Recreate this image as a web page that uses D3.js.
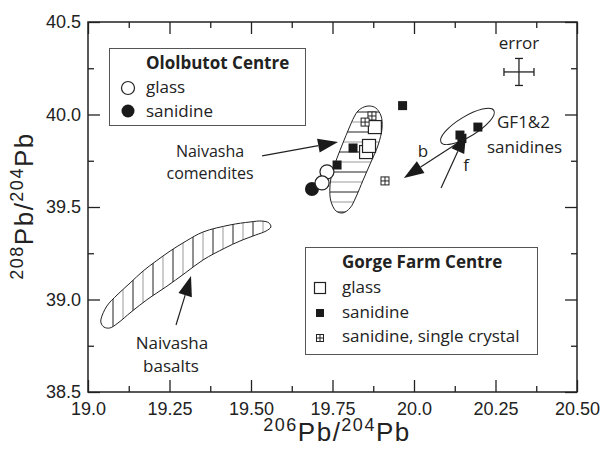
<!DOCTYPE html>
<html><head><meta charset="utf-8">
<script src="https://cdn.jsdelivr.net/npm/d3@7"></script>
<style>
body{margin:0;background:#fff;}
svg{display:block;}
.tick text{font-family:"Liberation Sans",Arial,sans-serif;font-size:18px;fill:#222;}
.lbl{font-family:"Open Sans",Lato,sans-serif;font-size:17px;fill:#222;}
</style></head>
<body>
<svg id="c" width="605" height="450"></svg>
<script>
// ---- data ----
const xTicks = [19.0, 19.25, 19.5, 19.75, 20.0, 20.25, 20.5];
const xTickLabels = ["19.0","19.25","19.50","19.75","20.0","20.25","20.50"];
const yTicks = [38.5, 39.0, 39.5, 40.0, 40.5];
const yTickLabels = ["38.5","39.0","39.5","40.0","40.5"];

// Ololbutot Centre
const ololGlass = [[19.733,39.690],[19.718,39.630]];
const ololSanidine = [[19.687,39.597]];
// Gorge Farm Centre
const gfGlass = [[19.853,39.797],[19.862,39.830],[19.880,39.932]];
const gfSanidine = [[19.965,40.048],[19.813,39.819],[19.764,39.727],[20.196,39.932],[20.141,39.889],[20.147,39.870]];
const gfSingle = [[19.871,39.992],[19.850,39.959],[19.911,39.641]];

// error bar
const errorCenter = [20.322, 40.230];
const errorHalf = [0.046, 0.073];

// Naivasha comendites field outline
const comenditeX = [19.828,19.847,19.865,19.883,19.899,19.902,19.890,19.868,19.844,19.822,19.804,19.782,19.761,19.745,19.742,19.748,19.764,19.782,19.801,19.816];
const comenditeY = [40.019,40.041,40.046,40.035,39.992,39.927,39.835,39.743,39.646,39.554,39.495,39.468,39.478,39.532,39.603,39.678,39.765,39.846,39.927,39.986];
// Naivasha basalts field outline
const basaltX = [19.040,19.058,19.089,19.129,19.169,19.209,19.252,19.301,19.353,19.436,19.497,19.534,19.555,19.561,19.546,19.515,19.466,19.420,19.353,19.298,19.239,19.184,19.132,19.092,19.067,19.049,19.040];
const basaltY = [38.895,38.965,39.024,39.089,39.154,39.208,39.262,39.316,39.365,39.403,39.419,39.424,39.414,39.392,39.370,39.349,39.316,39.278,39.214,39.143,39.068,39.003,38.932,38.873,38.846,38.851,38.873];

// GF1&2 ellipse major axis endpoints
const gfEllipse = [[20.083,39.849],[20.245,40.022]];

// arrows [from, to]
const arrows = [
  [[19.534,39.776],[19.767,39.851]],  // comendites
  [[19.270,38.862],[19.316,39.127]],  // basalts
  [[20.153,39.868],[19.969,39.657]],  // b
  [[20.083,39.603],[20.160,39.900]]   // f
];

// ---- chart ----
const svg = d3.select("#c");
const L=88,R=577,T=22,B=392;
const x = d3.scaleLinear().domain([19,20.5]).range([L,R]);
const y = d3.scaleLinear().domain([38.5,40.5]).range([B,T]);

const xMinor = d3.range(0,6).map(i=>19.125+i*0.25);
const yMinor = d3.range(0,4).map(i=>38.75+i*0.5);

function styleAxis(g){ g.select(".domain").remove(); g.selectAll("line").attr("stroke","#222").attr("stroke-width",1.3); }

// bottom
svg.append("g").attr("transform",`translate(0,${B})`)
  .call(d3.axisBottom(x).tickValues(xTicks).tickSize(-12).tickPadding(10)
    .tickFormat((d,i)=>xTickLabels[i])).call(styleAxis);
svg.append("g").attr("transform",`translate(0,${B})`)
  .call(d3.axisBottom(x).tickValues(xMinor).tickSize(-6).tickFormat("")).call(styleAxis);
// top
svg.append("g").attr("transform",`translate(0,${T})`)
  .call(d3.axisTop(x).tickValues(xTicks).tickSize(-12).tickFormat("")).call(styleAxis);
svg.append("g").attr("transform",`translate(0,${T})`)
  .call(d3.axisTop(x).tickValues(xMinor).tickSize(-6).tickFormat("")).call(styleAxis);
// left
svg.append("g").attr("transform",`translate(${L},0)`)
  .call(d3.axisLeft(y).tickValues(yTicks).tickSize(-12).tickPadding(7)
    .tickFormat((d,i)=>yTickLabels[i])).call(styleAxis);
svg.append("g").attr("transform",`translate(${L},0)`)
  .call(d3.axisLeft(y).tickValues(yMinor).tickSize(-6).tickFormat("")).call(styleAxis);
// right
svg.append("g").attr("transform",`translate(${R},0)`)
  .call(d3.axisRight(y).tickValues(yTicks).tickSize(-12).tickFormat("")).call(styleAxis);
svg.append("g").attr("transform",`translate(${R},0)`)
  .call(d3.axisRight(y).tickValues(yMinor).tickSize(-6).tickFormat("")).call(styleAxis);

svg.append("rect").attr("x",L).attr("y",T).attr("width",R-L).attr("height",B-T)
  .attr("fill","none").attr("stroke","#222").attr("stroke-width",1.5);

// axis titles
const tf = '"Liberation Sans",Arial,sans-serif';
function title(t,a,b){
  t.append("tspan").attr("font-size","18px").attr("dy","-10").text(a);
  t.append("tspan").attr("dy","10").text("Pb/");
  t.append("tspan").attr("font-size","18px").attr("dy","-10").text(b);
  t.append("tspan").attr("dy","10").text("Pb");
}
const xt = svg.append("text").attr("x",337).attr("y",441).attr("text-anchor","middle")
  .style("font-family",tf).style("font-size","26px").style("letter-spacing","1.5px").attr("fill","#222");
title(xt,"206","204");
const yt = svg.append("text").attr("transform","translate(33,206) rotate(-90)").attr("text-anchor","middle")
  .style("font-family",tf).style("font-size","26px").style("letter-spacing","1.5px").attr("fill","#222");
title(yt,"208","204");

// defs: clip paths for hatched fields
const defs = svg.append("defs");
const line = d3.line().x(d=>x(d[0])).y(d=>y(d[1])).curve(d3.curveCatmullRomClosed.alpha(0.5));
const comPts = comenditeX.map((v,i)=>[v,comenditeY[i]]);
const basPts = basaltX.map((v,i)=>[v,basaltY[i]]);
defs.append("clipPath").attr("id","clipCom").append("path").attr("d",line(comPts));
defs.append("clipPath").attr("id","clipBas").append("path").attr("d",line(basPts));

// basalt field: vertical hatch
const bx0 = x(d3.min(basaltX)), bx1 = x(d3.max(basaltX));
const gb = svg.append("g").attr("clip-path","url(#clipBas)");
d3.range(Math.ceil(bx0/10)*10+3, bx1, 10).forEach((px,i)=>{
  gb.append("line").attr("x1",px).attr("x2",px).attr("y1",y(d3.max(basaltY))).attr("y2",y(d3.min(basaltY)))
    .attr("stroke", i%2? "#999":"#222").attr("stroke-width",1);
});
svg.append("path").attr("d",line(basPts)).attr("fill","none").attr("stroke","#222").attr("stroke-width",1);

// comendite field: horizontal hatch
const cy0 = y(d3.max(comenditeY)), cy1 = y(d3.min(comenditeY));
const gc = svg.append("g").attr("clip-path","url(#clipCom)");
d3.range(Math.ceil(cy0/10)*10+2, cy1, 10).forEach((py,i)=>{
  gc.append("line").attr("y1",py).attr("y2",py).attr("x1",x(d3.min(comenditeX))).attr("x2",x(d3.max(comenditeX)))
    .attr("stroke", i%2? "#999":"#222").attr("stroke-width",1);
});
svg.append("path").attr("d",line(comPts)).attr("fill","none").attr("stroke","#222").attr("stroke-width",1);

// GF1&2 ellipse
{
  const p0=[x(gfEllipse[0][0]),y(gfEllipse[0][1])], p1=[x(gfEllipse[1][0]),y(gfEllipse[1][1])];
  const cx=(p0[0]+p1[0])/2, cyy=(p0[1]+p1[1])/2;
  const rx=Math.hypot(p1[0]-p0[0],p1[1]-p0[1])/2;
  const ang=Math.atan2(p1[1]-p0[1],p1[0]-p0[0])*180/Math.PI;
  svg.append("ellipse").attr("cx",0).attr("cy",0).attr("rx",rx).attr("ry",10)
    .attr("transform",`translate(${cx},${cyy}) rotate(${ang})`)
    .attr("fill","none").attr("stroke","#222").attr("stroke-width",1);
}

// symbols
function openSq(g,px,py,s){ g.append("rect").attr("x",px-s/2).attr("y",py-s/2).attr("width",s).attr("height",s).attr("fill","#fff").attr("stroke","#222").attr("stroke-width",1.2); }
function fillSq(g,px,py,s){ g.append("rect").attr("x",px-s/2).attr("y",py-s/2).attr("width",s).attr("height",s).attr("fill","#1a1a1a"); }
function crossSq(g,px,py,s){
  g.append("rect").attr("x",px-s/2).attr("y",py-s/2).attr("width",s).attr("height",s).attr("fill","#fff").attr("stroke","#222").attr("stroke-width",1);
  g.append("line").attr("x1",px-s/2).attr("x2",px+s/2).attr("y1",py).attr("y2",py).attr("stroke","#222").attr("stroke-width",1);
  g.append("line").attr("y1",py-s/2).attr("y2",py+s/2).attr("x1",px).attr("x2",px).attr("stroke","#222").attr("stroke-width",1);
}
function openCirc(g,px,py,r){ g.append("circle").attr("cx",px).attr("cy",py).attr("r",r).attr("fill","#fff").attr("stroke","#222").attr("stroke-width",1.2); }
function fillCirc(g,px,py,r){ g.append("circle").attr("cx",px).attr("cy",py).attr("r",r).attr("fill","#1a1a1a"); }

const gp = svg.append("g");
ololSanidine.forEach(d=>fillCirc(gp,x(d[0]),y(d[1]),7));
ololGlass.forEach(d=>openCirc(gp,x(d[0]),y(d[1]),7));
gfGlass.forEach(d=>openSq(gp,x(d[0]),y(d[1]),13));
gfSanidine.forEach(d=>fillSq(gp,x(d[0]),y(d[1]),9));
gfSingle.forEach(d=>crossSq(gp,x(d[0]),y(d[1]),8));

// arrows
arrows.forEach(a=>{
  const x1=x(a[0][0]),y1=y(a[0][1]),x2=x(a[1][0]),y2=y(a[1][1]);
  const ang=Math.atan2(y2-y1,x2-x1), len=20, hw=7;
  const bx=x2-len*Math.cos(ang), by=y2-len*Math.sin(ang);
  svg.append("line").attr("x1",x1).attr("y1",y1).attr("x2",bx).attr("y2",by).attr("stroke","#222").attr("stroke-width",1.2);
  const nx=-Math.sin(ang), ny=Math.cos(ang);
  svg.append("path").attr("d",`M${x2},${y2}L${bx+nx*hw},${by+ny*hw}L${bx-nx*hw},${by-ny*hw}Z`).attr("fill","#1a1a1a");
});

// error cross
{
  const cx=x(errorCenter[0]), cyy=y(errorCenter[1]);
  const xa=x(errorCenter[0]-errorHalf[0]), xb=x(errorCenter[0]+errorHalf[0]);
  const ya=y(errorCenter[1]+errorHalf[1]), yb=y(errorCenter[1]-errorHalf[1]);
  const g=svg.append("g").attr("stroke","#222").attr("stroke-width",1.3);
  g.append("line").attr("x1",xa).attr("x2",xb).attr("y1",cyy).attr("y2",cyy);
  g.append("line").attr("x1",cx).attr("x2",cx).attr("y1",ya).attr("y2",yb);
  g.append("line").attr("x1",xa).attr("x2",xa).attr("y1",cyy-4).attr("y2",cyy+4);
  g.append("line").attr("x1",xb).attr("x2",xb).attr("y1",cyy-4).attr("y2",cyy+4);
  g.append("line").attr("x1",cx-4).attr("x2",cx+4).attr("y1",ya).attr("y2",ya);
  g.append("line").attr("x1",cx-4).attr("x2",cx+4).attr("y1",yb).attr("y2",yb);
  svg.append("text").attr("class","lbl").attr("x",cx).attr("y",49).attr("text-anchor","middle").text("error");
}

// annotations
function lbl(tx,px,py,anchor){ return svg.append("text").attr("class","lbl").attr("x",px).attr("y",py).attr("text-anchor",anchor||"start").text(tx); }
lbl("GF1&2",497,128);
lbl("sanidines",487,153);
lbl("b",423,157,"middle");
lbl("f",466,171,"middle");
lbl("Naivasha",210,157,"middle").style("font-size","16px");
lbl("comendites",210,179,"middle").style("font-size","16px");
lbl("Naivasha",172,349,"middle");
lbl("basalts",171,372,"middle");

// legend 1
svg.append("rect").attr("x",109.5).attr("y",48.5).attr("width",196).attr("height",77).attr("fill","#fff").attr("stroke","#555").attr("stroke-width",1);
lbl("Ololbutot Centre",146,69).attr("font-weight","bold");
openCirc(svg,128,88,6.5); lbl("glass",146,93);
fillCirc(svg,128,111,6.5); lbl("sanidine",146,117);

// legend 2
svg.append("rect").attr("x",305.5).attr("y",247.5).attr("width",232).attr("height",107).attr("fill","#fff").attr("stroke","#555").attr("stroke-width",1);
lbl("Gorge Farm Centre",342,268).attr("font-weight","bold");
openSq(svg,320,288,11); lbl("glass",342,293);
fillSq(svg,320,313,8); lbl("sanidine",342,318);
crossSq(svg,320,338,7); lbl("sanidine, single crystal",342,342);
</script>
</body></html>
